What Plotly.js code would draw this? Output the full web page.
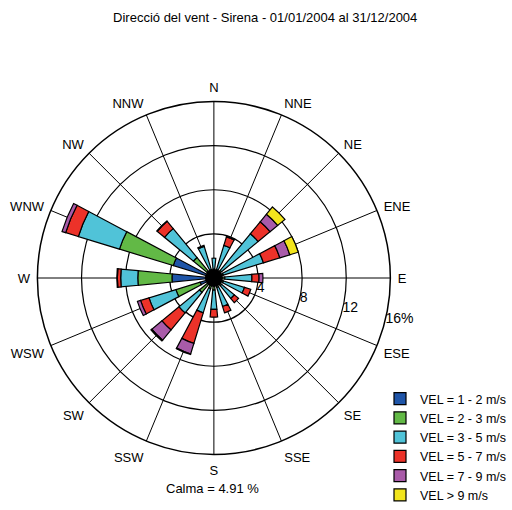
<!DOCTYPE html>
<html>
<head>
<meta charset="utf-8">
<script src="https://cdn.plot.ly/plotly-3.0.1.min.js"></script>
<style>html,body{margin:0;padding:0;background:#fff}#chart{width:512px;height:510px}</style>
</head>
<body>
<div id="chart"></div>
<script>
const directions = ["N","NNE","NE","ENE","E","ESE","SE","SSE","S","SSW","SW","WSW","W","WNW","NW","NNW"];
const angles = [0,22.5,45,67.5,90,112.5,135,157.5,180,202.5,225,247.5,270,292.5,315,337.5];
const seriesNames = ["VEL = 1 - 2 m/s","VEL = 2 - 3 m/s","VEL = 3 - 5 m/s","VEL = 5 - 7 m/s","VEL = 7 - 9 m/s","VEL > 9 m/s"];
const vel1to2 = [0.3,0.3,0.3,0.3,0.3,0.3,0.3,0.3,0.3,0.5,0.5,1.3,3.8,3.85,0.8,0.3];
const vel2to3 = [0.5,0.5,0.6,0.6,0.7,0.6,0.6,0.6,0.8,0.5,1.2,2.3,3.1,5.1,1.6,0.5];
const vel3to5 = [1.0,2.3,4.3,3.8,2.45,2.0,1.5,1.8,1.75,2.3,2.4,2.55,1.55,3.9,3.4,2.2];
const vel5to7 = [0,0.8,1.4,1.55,0.65,0.6,0.5,0.6,0.7,2.9,2.0,0.8,0.3,1.2,0.85,0.1];
const vel7to9 = [0,0.05,0.9,0.95,0.35,0,0,0,0,1.0,1.2,0.3,0.05,0.35,0.05,0];
const velOver9 = [0,0,0.85,0.8,0,0,0,0,0,0.05,0.1,0,0,0,0,0];
const radialTicks = [4,8,12,16];
const radialTickText = ["4","8","12","16%"];
const radialLabelAngle = 103.5;
const calmText = "Calma = 4.91 %";
const titleText = "Direcció del vent - Sirena - 01/01/2004 al 31/12/2004";

const colors = ["#1f55a8","#62b946","#50c3d8","#ec3229","#a95ba9","#f2e51d"];
const series = [vel1to2, vel2to3, vel3to5, vel5to7, vel7to9, velOver9];

const traces = series.map((vals, i) => ({
  type: "barpolar",
  r: vals,
  theta: angles,
  width: 11,
  name: seriesNames[i],
  marker: {color: colors[i], line: {color: "#000", width: 1.2}},
  hoverinfo: "skip"
}));
traces.push({
  type: "scatterpolar",
  r: [0],
  theta: [0],
  mode: "markers",
  marker: {color: "#000", size: 18},
  showlegend: false,
  hoverinfo: "skip"
});
const font = "Liberation Sans, Arial, sans-serif";
traces.push({
  type: "scatterpolar",
  r: radialTicks,
  theta: radialTicks.map(() => radialLabelAngle),
  mode: "text",
  text: radialTickText,
  textposition: "middle right",
  textfont: {family: font, size: 14, color: "#000"},
  showlegend: false,
  hoverinfo: "skip",
  cliponaxis: false
});

const layout = {
  width: 512, height: 510,
  margin: {l: 0, r: 0, t: 0, b: 0},
  paper_bgcolor: "#fff",
  font: {family: font, size: 12, color: "#000"},
  title: {text: titleText, x: 0.518, xanchor: "center", y: 0.965, yanchor: "middle", font: {family: font, size: 13, color: "#000"}},
  showlegend: true,
  legend: {x: 0.757, y: -0.018, xanchor: "left", yanchor: "bottom", font: {family: font, size: 12.5, color: "#000"},
           traceorder: "normal", bgcolor: "rgba(0,0,0,0)", tracegroupgap: 0, itemwidth: 30},
  polar: {
    domain: {x: [0.0745, 0.7776], y: [0.0922, 0.7980]},
    bgcolor: "#fff",
    barmode: "stack",
    angularaxis: {
      direction: "clockwise", rotation: 90,
      tickmode: "array", tickvals: angles, ticktext: directions,
      showgrid: true, gridcolor: "#000", gridwidth: 1,
      showline: true, linecolor: "#000", linewidth: 1.5,
      ticks: "outside", ticklen: 4, tickcolor: "rgba(0,0,0,0)",
      tickfont: {family: font, size: 13, color: "#000"}
    },
    radialaxis: {
      range: [0, 16], angle: 90,
      tickmode: "array", tickvals: radialTicks,
      showticklabels: false,
      showgrid: true, gridcolor: "#000", gridwidth: 1.2,
      showline: false, ticks: ""
    }
  },
  annotations: [{
    text: calmText, xref: "paper", yref: "paper", x: 0.424, y: 0.024,
    xanchor: "center", yanchor: "middle", showarrow: false,
    font: {family: font, size: 13, color: "#000"}
  }]
};

Plotly.newPlot("chart", traces, layout, {displayModeBar: false, staticPlot: true});
</script>
</body>
</html>
